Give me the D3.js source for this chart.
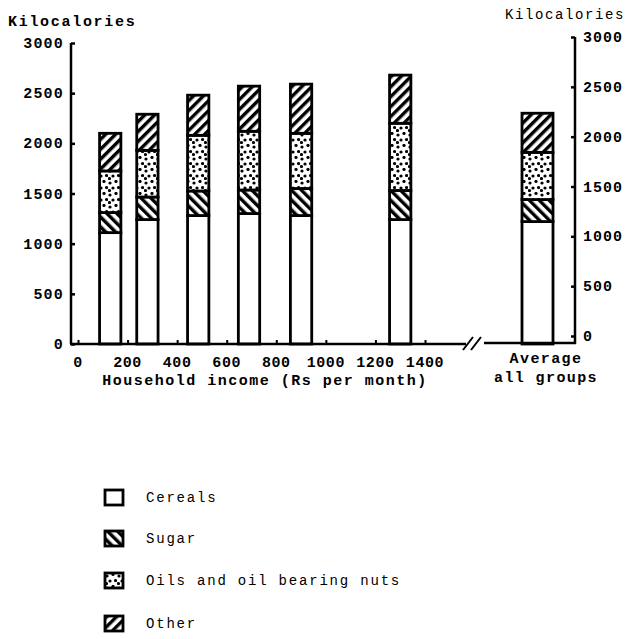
<!DOCTYPE html>
<html>
<head>
<meta charset="utf-8">
<script src="https://cdn.jsdelivr.net/npm/d3@7"></script>
<style>
  body { margin: 0; background: #fff; }
  svg text { font-family: "Liberation Mono", "DejaVu Sans Mono", monospace; fill: #000; }
</style>
</head>
<body>
<svg id="chart" width="635" height="639"></svg>
<script>
// dados (kcal por dia)
const categorias = ["Cereals", "Sugar", "Oils and oil bearing nuts", "Other"];
const rendaGrupos = [130, 280, 485, 690, 900, 1300]; // Rs por mes (centro do grupo)
const cereais = [1110, 1240, 1280, 1300, 1280, 1240];
const acucar  = [200, 225, 245, 235, 270, 290];
const oleos   = [415, 465, 555, 585, 550, 670];
const outros  = [375, 360, 400, 450, 490, 480];
const media = [1220, 220, 470, 390]; // average all groups
const xTicks = [0, 200, 400, 600, 800, 1000, 1200, 1400];
const yTicks = [0, 500, 1000, 1500, 2000, 2500, 3000];

const svg = d3.select("#chart");
svg.append("rect").attr("width", 635).attr("height", 639).attr("fill", "#fff");

// padroes de preenchimento
const defs = svg.append("defs");
function listras(id, angulo) {
  const p = defs.append("pattern").attr("id", id)
    .attr("patternUnits", "userSpaceOnUse")
    .attr("width", 7).attr("height", 7)
    .attr("patternTransform", "rotate(" + angulo + ")");
  p.append("rect").attr("width", 7).attr("height", 7).attr("fill", "#fff");
  p.append("rect").attr("width", 3.4).attr("height", 7).attr("fill", "#000");
}
listras("sugar", -45);
listras("other", 45);
const pontos = defs.append("pattern").attr("id", "oils")
  .attr("patternUnits", "userSpaceOnUse").attr("width", 12).attr("height", 12);
pontos.append("rect").attr("width", 12).attr("height", 12).attr("fill", "#fff");
[[2, 3], [8, 1.5], [5, 8], [10.5, 7.5], [1.5, 10.5]].forEach(function(c) {
  pontos.append("circle").attr("cx", c[0]).attr("cy", c[1]).attr("r", 1.6).attr("fill", "#000");
});
const preenche = { "Cereals": "#fff", "Sugar": "url(#sugar)",
  "Oils and oil bearing nuts": "url(#oils)", "Other": "url(#other)" };

// escalas
const xScale = d3.scaleLinear().domain([0, 1400]).range([78, 425]);
const yScale = d3.scaleLinear().domain([0, 3000]).range([344, 43]);
const yScaleDir = d3.scaleLinear().domain([0, 3000]).range([336, 37]);
const xMedia = d3.scaleBand().domain(["Average all groups"]).range([522, 553]);
const larguraBarra = xScale(86) - xScale(0);

// tabela para o stack
const tabela = rendaGrupos.map(function(r, i) {
  return { renda: r, "Cereals": cereais[i], "Sugar": acucar[i],
    "Oils and oil bearing nuts": oleos[i], "Other": outros[i] };
});
const linhaMedia = { renda: "Average all groups" };
categorias.forEach(function(c, i) { linhaMedia[c] = media[i]; });

const pilha = d3.stack().keys(categorias);
const series = pilha(tabela);
const seriesMedia = pilha([linhaMedia]);

// barras dos grupos de renda
series.forEach(function(s) {
  svg.append("g").selectAll("rect")
    .data(s)
    .enter()
    .append("rect")
    .attr("x", function(d) { return xScale(d.data.renda) - larguraBarra / 2; })
    .attr("y", function(d) { return yScale(d[1]); })
    .attr("width", larguraBarra)
    .attr("height", function(d) { return yScale(d[0]) - yScale(d[1]); })
    .attr("fill", preenche[s.key])
    .attr("stroke", "#000")
    .attr("stroke-width", 2.8);
});
// barra da media
seriesMedia.forEach(function(s) {
  svg.append("g").selectAll("rect")
    .data(s)
    .enter()
    .append("rect")
    .attr("x", function(d) { return xMedia(d.data.renda); })
    .attr("y", function(d) { return yScale(d[1]); })
    .attr("width", xMedia.bandwidth())
    .attr("height", function(d) { return yScale(d[0]) - yScale(d[1]); })
    .attr("fill", preenche[s.key])
    .attr("stroke", "#000")
    .attr("stroke-width", 2.8);
});

// eixo esquerdo
const eixoY = svg.append("g").attr("transform", "translate(71,0)")
  .call(d3.axisRight(yScale).tickValues(yTicks).tickSize(4).tickFormat(""));
eixoY.select(".domain").remove();
eixoY.selectAll("line").attr("stroke-width", 2.5);
svg.append("line").attr("x1", 71).attr("x2", 71)
  .attr("y1", yScale(3000)).attr("y2", yScale(0))
  .attr("stroke", "#000").attr("stroke-width", 2.5);
svg.append("g").selectAll("text").data(yTicks).enter().append("text")
  .attr("x", 64).attr("y", function(d) { return yScale(d) + 5; })
  .attr("text-anchor", "end").attr("font-size", 15).attr("font-weight", "bold")
  .attr("letter-spacing", 1.2)
  .text(function(d) { return d; });

// eixo direito
const eixoD = svg.append("g").attr("transform", "translate(575,0)")
  .call(d3.axisLeft(yScaleDir).tickValues(yTicks).tickSize(4).tickFormat(""));
eixoD.select(".domain").remove();
eixoD.selectAll("line").attr("stroke-width", 2.5);
svg.append("line").attr("x1", 575).attr("x2", 575)
  .attr("y1", yScaleDir(3000)).attr("y2", yScale(0))
  .attr("stroke", "#000").attr("stroke-width", 2.5);
svg.append("g").selectAll("text").data(yTicks).enter().append("text")
  .attr("x", 583).attr("y", function(d) { return yScaleDir(d) + 5; })
  .attr("font-size", 15).attr("font-weight", "bold").attr("letter-spacing", 1)
  .text(function(d) { return d; });

// eixo x (com quebra)
const eixoX = svg.append("g").attr("transform", "translate(0,344)")
  .call(d3.axisBottom(xScale).tickValues(xTicks).tickSize(-4).tickFormat(""));
eixoX.select(".domain").remove();
eixoX.selectAll("line").attr("stroke-width", 2);
svg.append("line").attr("x1", 70).attr("x2", 466).attr("y1", 344).attr("y2", 344)
  .attr("stroke", "#000").attr("stroke-width", 2.5);
svg.append("line").attr("x1", 484).attr("x2", 576).attr("y1", 343).attr("y2", 343)
  .attr("stroke", "#000").attr("stroke-width", 2.5);
[468, 476].forEach(function(bx) {
  svg.append("line").attr("x1", bx - 5).attr("x2", bx + 5).attr("y1", 350).attr("y2", 337)
    .attr("stroke", "#000").attr("stroke-width", 2);
});
svg.append("g").selectAll("text").data(xTicks).enter().append("text")
  .attr("x", function(d) { return xScale(d); }).attr("y", 367)
  .attr("text-anchor", "middle").attr("font-size", 15).attr("font-weight", "bold")
  .attr("letter-spacing", 0.6)
  .text(function(d) { return d; });

// titulos dos eixos
svg.append("text").attr("x", 8).attr("y", 26)
  .attr("font-size", 15).attr("font-weight", "bold").attr("letter-spacing", 1.7)
  .text("Kilocalories");
svg.append("text").attr("x", 505).attr("y", 19)
  .attr("font-size", 14).attr("letter-spacing", 1.6)
  .text("Kilocalories");
svg.append("text").attr("x", 265).attr("y", 385).attr("text-anchor", "middle")
  .attr("font-size", 15).attr("font-weight", "bold").attr("letter-spacing", 1.5)
  .text("Household income (Rs per month)");
svg.append("text").attr("x", 546).attr("y", 363).attr("text-anchor", "middle")
  .attr("font-size", 15).attr("font-weight", "bold").attr("letter-spacing", 1.4)
  .text("Average");
svg.append("text").attr("x", 546).attr("y", 382).attr("text-anchor", "middle")
  .attr("font-size", 15).attr("font-weight", "bold").attr("letter-spacing", 1.4)
  .text("all groups");

// legenda
const legenda = svg.append("g").selectAll("g")
  .data(categorias)
  .enter()
  .append("g")
  .attr("transform", function(d, i) { return "translate(105," + [490, 531, 573, 616][i] + ")"; });
legenda.append("rect")
  .attr("width", 18).attr("height", 15)
  .attr("fill", function(d) { return preenche[d]; })
  .attr("stroke", "#000").attr("stroke-width", 2.8);
legenda.append("text")
  .attr("x", 41).attr("y", 12)
  .attr("font-size", 14).attr("letter-spacing", 1.8)
  .text(function(d) { return d; });
</script>
</body>
</html>
